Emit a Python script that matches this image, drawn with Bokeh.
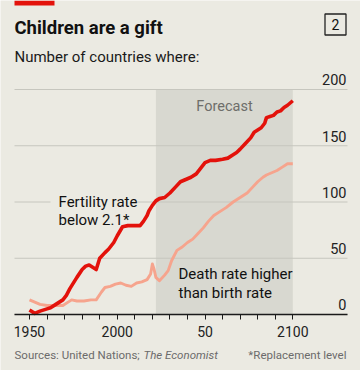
from bokeh.plotting import figure
from bokeh.models import Range1d, FixedTicker, Label
from bokeh.embed import file_html
from bokeh.resources import INLINE

# ---- data ----
fert_years = [1950, 1953, 1956, 1960, 1962, 1965, 1969, 1971, 1973, 1977, 1980, 1982, 1984, 1986, 1988,
              1990, 1993, 1995, 1998, 2000, 2003, 2006, 2010, 2013, 2015, 2017, 2018, 2020, 2022,
              2024, 2027, 2030, 2033, 2036, 2039, 2042, 2045, 2048, 2050, 2053, 2056, 2060, 2063,
              2066, 2068, 2070, 2073, 2076, 2078, 2080, 2082, 2084, 2085, 2087, 2089, 2091, 2093,
              2095, 2097, 2100]
fert = [4, 1, 3, 5, 6, 9, 13, 17, 23, 33, 40, 43, 44, 42, 40,
        50, 55, 58, 64, 70, 78, 79, 79, 79, 83, 88, 92, 97, 101,
        103, 104, 108, 113, 118, 120, 122, 125, 131, 135, 137, 137, 138, 139,
        142, 144, 147, 152, 157, 162, 164, 166, 170, 175, 176, 177, 180, 181,
        184, 186, 190]

death_years = [1950, 1953, 1956, 1960, 1965, 1969, 1972, 1974, 1977, 1981, 1985, 1988, 1991, 1993,
               1996, 1999, 2002, 2005, 2008, 2011, 2014, 2017, 2019, 2020, 2021, 2022, 2024,
               2027, 2029, 2031, 2034, 2037, 2040, 2043, 2046, 2049, 2052, 2055, 2058, 2062,
               2066, 2070, 2074, 2077, 2080, 2083, 2085, 2088, 2091, 2094, 2097, 2100]
death = [13, 11, 9, 8, 8, 8, 11, 13, 12, 12, 13, 13, 20, 24,
         25, 27, 28, 26, 25, 28, 29, 31, 36, 45, 40, 33, 30,
         35, 39, 48, 57, 60, 64, 67, 72, 77, 83, 88, 91, 95,
         100, 104, 108, 113, 118, 122, 124, 126, 128, 131, 134, 134]

y_ticks = [0, 50, 100, 150, 200]
x_ticks = list(range(1950, 2101, 10))
x_labels = {1950: "1950", 2000: "2000", 2050: "50", 2100: "2100"}
forecast_start, forecast_end = 2022, 2100

# ---- styling ----
BG = "#ebeae2"
SHADE = "#d8d8d0"
GRID = "#c6c6be"
RED = "#e3120b"
SALMON = "#f6a48d"
INK = "#111111"
FONT = "Roboto"

W, H = 360, 370
AX_L, AX_R, AX_B = 14, 347, 314
PX_YEAR = 1.7553
PX_UNIT = 1.125
X0 = 1950 - (29 - AX_L) / PX_YEAR


def X(px):
    return X0 + (px - AX_L) / PX_YEAR


def Y(py):
    return (AX_B - py) / PX_UNIT


p = figure(width=W, height=H,
           x_range=Range1d(X(0), X(W)), y_range=Range1d(Y(H), Y(0)),
           output_backend="svg", toolbar_location=None, y_axis_location=None,
           min_border_left=0, min_border_right=0, min_border_top=0, min_border_bottom=0,
           background_fill_color=BG, border_fill_color=BG, outline_line_color=None)

p.xgrid.visible = False
p.ygrid.visible = False

ax = p.xaxis[0]
ax.fixed_location = 0
ax.bounds = (X(AX_L), X(AX_R))
ax.ticker = FixedTicker(ticks=x_ticks)
ax.major_label_overrides = {t: x_labels.get(t, "") for t in x_ticks}
ax.minor_tick_line_color = None
ax.major_tick_in = 0
ax.major_tick_out = 5
ax.axis_line_width = 1.5
ax.axis_line_color = "#1a1a1a"
ax.major_tick_line_color = "#1a1a1a"
ax.major_tick_line_width = 1
ax.major_label_text_font = FONT
ax.major_label_text_font_size = "14px"
ax.major_label_text_color = "#222222"
ax.major_label_standoff = 6

# forecast shading
p.quad(left=[forecast_start], right=[forecast_end], bottom=[y_ticks[0]], top=[y_ticks[-1]],
       fill_color=SHADE, line_color=None, level="image")

# horizontal gridlines
p.segment(x0=[X(AX_L)] * len(y_ticks), x1=[X(AX_R)] * len(y_ticks), y0=y_ticks, y1=y_ticks,
          line_color=GRID, line_width=1, level="underlay")

# background behind fertility label (interrupts gridline)
p.quad(left=[X(50)], right=[X(137)], bottom=[Y(206)], top=[Y(195)],
       fill_color=BG, line_color=None)

# lines
p.line(death_years, death, line_color=SALMON, line_width=2.9, line_join="round")
p.line(fert_years, fert, line_color=RED, line_width=3.6, line_join="round")

# red bar and number box
p.quad(left=[X(14)], right=[X(54)], bottom=[Y(5)], top=[Y(0)], fill_color=RED, line_color=None)
p.quad(left=[X(324.5)], right=[X(345.5)], bottom=[Y(34.5)], top=[Y(13.5)],
       fill_color=None, line_color="#222222", line_width=1.3)


def lab(px, py, text, size="14px", color=INK, align="left", style="normal"):
    p.add_layout(Label(x=X(px), y=Y(py), text=text, text_font=FONT, text_font_size=size,
                       text_color=color, text_align=align, text_font_style=style,
                       text_baseline="middle"))


lab(14, 27, "Children are a gift", size="18.5px", style="bold")
lab(335, 24, "2", size="14px", align="center")
lab(14, 56, "Number of countries where:", size="15px", color="#1a1a1a")

for t in y_ticks:
    p.add_layout(Label(x=X(346), y=t + 8.6, text=str(t), text_font=FONT, text_font_size="14.5px",
                       text_color="#222222", text_align="right", text_baseline="middle"))

lab(224, 105.7, "Forecast", size="14.5px", color="#6e6e6a", align="center")
lab(58, 201, "Fertility rate", size="15px")
lab(58, 219.5, "below 2.1*", size="15px")
lab(178, 273.3, "Death rate higher", size="15px")
lab(178, 292.3, "than birth rate", size="15px")

lab(14, 354, "Sources: United Nations; ", size="11.5px", color="#6b6b6b")
lab(143, 354, "The Economist", size="11.5px", color="#6b6b6b", style="italic")
lab(346, 354, "*Replacement level", size="11.5px", color="#6b6b6b", align="right")

open("out.html", "w").write(file_html(p, INLINE))
